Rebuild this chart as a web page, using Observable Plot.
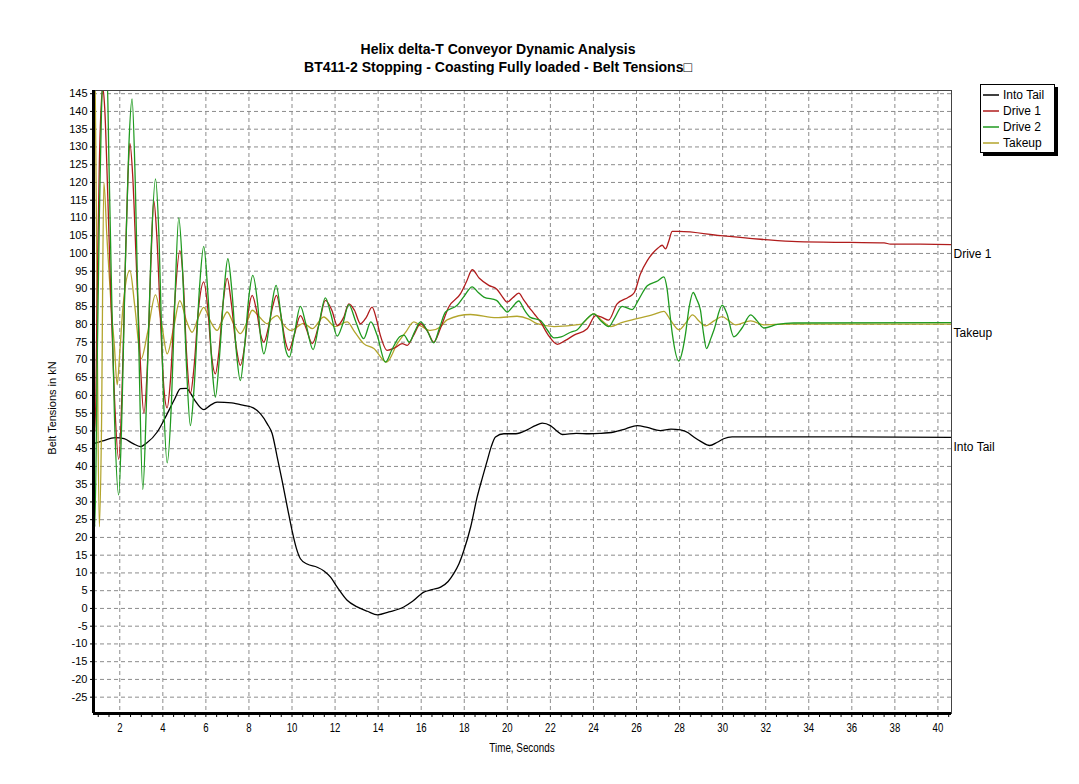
<!DOCTYPE html>
<html><head><meta charset="utf-8">
<script src="https://cdn.jsdelivr.net/npm/d3@7"></script>
<script src="https://cdn.jsdelivr.net/npm/@observablehq/plot@0.6"></script>
<style>
body{margin:0;background:#fff;font-family:"Liberation Sans",Arial,sans-serif;}
#wrap{position:relative;width:1079px;height:784px;overflow:hidden;}
#title{position:absolute;left:0;top:40px;width:996px;text-align:center;font-weight:bold;font-size:14px;line-height:18px;color:#000;}
#chart{position:absolute;left:0;top:80px;}
#legend{position:absolute;left:980px;top:84px;width:73px;height:67px;border:1px solid #000;background:#fff;box-shadow:3px 3px 0 #000;font-size:12px;color:#000;}
#legend .row{height:16px;line-height:16px;display:flex;align-items:center;}
#legend .row:first-child{margin-top:2px;}
#legend svg{margin:0 4px 0 2px;}
#xlabel{position:absolute;left:422px;width:200px;top:740px;text-align:center;font-size:12px;line-height:16px;transform:scaleX(0.82);}
#ylabel{position:absolute;left:52px;top:408px;font-size:11px;white-space:nowrap;transform:translate(-50%,-50%) rotate(-90deg);}
</style>
</head><body>
<div id="wrap">
<div id="title">Helix delta-T Conveyor Dynamic Analysis<br>BT411-2 Stopping - Coasting Fully loaded - Belt Tensions□</div>
<div id="chart"></div>
<div id="legend"></div>
<div id="xlabel">Time, Seconds</div>
<div id="ylabel">Belt Tensions in kN</div>
</div>
<script>
// ---- data ----
const seriesNames = ["Into Tail", "Drive 1", "Drive 2", "Takeup"];
const seriesColors = ["#000000", "#b01c1c", "#1f9a1f", "#b3a52c"];
const xTickLabels = [2,4,6,8,10,12,14,16,18,20,22,24,26,28,30,32,34,36,38,40];
const yTickLabels = [-25,-20,-15,-10,-5,0,5,10,15,20,25,30,35,40,45,50,55,60,65,70,75,80,85,90,95,100,105,110,115,120,125,130,135,140,145];

const intoTailT = [0.78,1.2,1.8,2.2,2.6,2.96,3.25,3.74,4.2,4.55,4.82,5.1,5.3,5.5,5.9,6.2,6.52,7.2,7.76,8.2,8.54,8.85,9.08,9.3,9.54,9.8,10.0,10.2,10.39,10.7,11.17,11.5,11.79,12.1,12.56,13.0,13.5,13.98,14.5,15.19,15.6,16.12,16.5,16.9,17.25,17.51,17.75,17.98,18.3,18.6,18.85,19.07,19.25,19.45,19.84,20.4,20.92,21.3,21.62,22.0,22.3,22.55,23.2,23.8,24.3,24.95,25.5,26.03,26.5,27.1,27.6,28.04,28.4,28.66,29.0,29.4,29.75,30.05,30.44,32,36,40.63];
const intoTailV = [46.4,47.2,48.1,47.8,46.5,45.6,46.6,49.7,54.8,59,61.9,62,60.5,58.5,56,57.2,58.1,57.9,57.2,56.5,54.8,52,49.2,43,36,28,22,17,14,12.5,11.6,10.5,8.8,6,2.3,0.5,-0.8,-1.8,-1,0.4,2,4.6,5.3,6,7.6,9.8,12.5,16.3,23,31.4,37,41.7,45.5,48.3,49.2,49.2,50.3,51.5,52.2,51.5,50,49,49.3,49.2,49.3,49.7,50.6,51.5,51,50.1,50.5,50.3,49.5,48.3,47,45.9,46.8,47.8,48.3,48.3,48.3,48.2];

const drive1T = [0.78,0.85,0.95,1.05,1.15,1.22,1.3,1.45,1.6,1.75,1.95,2.1,2.25,2.38,2.47,2.6,2.75,2.95,3.12,3.28,3.45,3.58,3.72,3.9,4.05,4.2,4.35,4.55,4.79,4.95,5.1,5.28,5.45,5.65,5.9,6.08,6.25,6.44,6.6,6.8,6.99,7.18,7.4,7.6,7.8,7.98,8.15,8.35,8.55,8.69,8.9,9.1,9.28,9.5,9.7,9.85,10.1,10.39,10.65,10.94,11.25,11.55,11.85,12.1,12.4,12.64,12.9,13.18,13.45,13.72,13.9,14.1,14.42,14.8,15.12,15.35,15.65,15.97,16.3,16.58,16.9,17.28,17.82,18.1,18.37,18.7,19.14,19.5,19.75,19.99,20.25,20.53,20.75,21.0,21.25,21.54,21.9,22.32,22.7,23.1,23.71,24.1,24.4,24.7,25.1,25.64,25.9,26.18,26.5,26.73,27.0,27.19,27.35,27.5,27.66,27.97,29.9,31.76,33.46,35.9,37.5,37.8,38.88,40.63];
const drive1V = [62,50,88,125,143,146.5,141,115,85,60,42,60,95,122,131,122,100,70,55,68,98,114.9,105,80,62,56.5,64,86,100.8,92,72,60.5,68,84,92,85,72,66.1,72,86,93,86,74,68.5,74,84,88.2,84,77,75,79,85,88.2,82,75,72.7,77,82.5,79,74.6,80,86.8,84,79.7,82,85.8,84,80.2,82,84.9,82,77,72.7,73.5,74.6,74.1,77,80.2,78,75,79,84.9,88.6,92,95.4,93,91,90,88,86.3,87.5,88.8,87,84.9,83,80.7,77,74.4,75.5,77,78.8,82.5,82,81.2,85.8,87.7,89,94.2,98,99.9,101.5,102.3,101.3,103.5,106.2,106.2,105,104,103.3,103.1,103,102.6,102.6,102.5];

const drive2T = [0.78,0.84,0.95,1.05,1.15,1.25,1.4,1.5,1.6,1.75,1.95,2.1,2.25,2.42,2.57,2.72,2.88,3.07,3.25,3.45,3.66,3.82,4.0,4.2,4.4,4.55,4.74,4.92,5.1,5.28,5.45,5.7,5.9,6.1,6.3,6.44,6.62,6.85,7.02,7.2,7.42,7.6,7.8,8.0,8.18,8.4,8.55,8.69,8.95,9.1,9.26,9.5,9.7,9.88,10.1,10.39,10.65,10.98,11.25,11.55,11.8,12.1,12.35,12.64,12.95,13.33,13.66,13.95,14.34,14.65,15.0,15.2,15.45,15.7,15.97,16.3,16.58,16.85,17.13,17.67,18.0,18.37,18.65,18.91,19.5,19.75,20.0,20.25,20.53,20.8,21.07,21.54,21.85,22.17,22.5,22.94,23.25,23.6,24.02,24.35,24.71,25.0,25.33,25.8,26.1,26.5,27.0,27.27,27.42,27.55,27.66,27.97,28.15,28.28,28.45,28.63,28.8,28.97,29.1,29.25,29.45,29.6,29.98,30.2,30.52,30.9,31.3,31.6,31.92,32.54,33.3,40.63];
const drive2V = [58,23,68,110,140,152,152,125,95,55,32,55,95,130,143.5,120,75,33.5,60,100,121,105,65,41,58,85,110,95,68,51.5,62,90,102,88,67,59.5,70,90,98.5,90,72,64.2,74,88,93.8,86,76,71.7,80,87,91,82,73,70.8,77,85.1,80,72.9,80,87.5,83,76.7,80,85.6,81,76,80.7,77,69.4,73,76.5,77,75,78,80.7,78,74.8,79,83.5,85.4,88,90.6,89,87.7,86.8,85,83.5,85,86.6,84,82,81.1,78.5,76.2,76.5,77.8,78.5,81,83,81,79.4,82,85.1,84.2,87,90.9,92.3,93.4,90,83,77.5,69.7,73,77.5,85,89,87,84,78,73.2,76,78.5,85.4,83,76.5,79,82.7,81,79,80,80.4,80.5];

const takeupT = [0.78,0.86,0.95,1.05,1.15,1.26,1.4,1.6,1.75,1.88,2.0,2.15,2.47,2.7,2.99,3.3,3.66,3.95,4.2,4.5,4.79,5.1,5.36,5.65,5.9,6.2,6.52,6.75,6.99,7.3,7.6,7.9,8.15,8.5,8.85,9.05,9.3,9.6,9.93,10.55,10.94,11.47,12.0,12.56,12.9,13.33,13.8,14.39,14.89,15.3,15.66,16.0,16.43,16.89,17.2,18.29,19.5,20.45,21.0,21.38,22.17,23.4,24.02,24.4,24.8,25.3,25.87,26.8,27.27,27.6,27.97,28.3,28.6,28.9,29.2,29.6,29.98,30.3,30.6,31.3,31.92,33,40.63];
const takeupV = [110,146.5,80,23,50,120,105,85,74,63,72,85,95.2,85,70.3,78,88.3,80,71.7,79,86.7,81,77.8,82,84.8,81,78.3,81,83.5,80,77.4,80.5,84,82,80.2,81.5,82.5,80,78.3,80.3,78.8,82.1,79.4,80.7,78,74.6,73.2,69.4,74.6,78,80.7,79.5,78.3,79.3,81.3,82.8,81.9,82.3,81.5,80.2,79.4,80,83,81,79.4,80.5,81.4,82.8,83.7,81,78.5,80.5,82.7,81,79.6,81,82.2,81,79.9,81,79.9,80.1,80.1];

// ---- build tables ----
const toRows = (T, V) => T.map((t, i) => ({t, v: V[i]}));
const series = [
  toRows(intoTailT, intoTailV),
  toRows(drive1T, drive1V),
  toRows(drive2T, drive2V),
  toRows(takeupT, takeupV)
];
const xDomain = [0.78, 40.63];
const yDomain = [-29.6, 145.9];
const xMinor = d3.range(1, 40.6, 0.5);

const endLabels = [0, 1, 3].map(i => {
  const r = series[i][series[i].length - 1];
  return {t: r.t, v: r.v, name: seriesNames[i]};
});

const drawOrder = [0, 3, 1, 2];

const chart = Plot.plot({
  width: 1079,
  height: 704,
  marginTop: 10,
  marginBottom: 71,
  marginLeft: 93,
  marginRight: 128,
  style: {fontFamily: "'Liberation Sans', Arial, sans-serif", fontSize: "11px", background: "#fff", color: "#000", overflow: "visible"},
  x: {domain: xDomain, ticks: xMinor, tickFormat: d => (xTickLabels.includes(d) ? String(d) : ""), tickSize: 4, tickPadding: 6, label: null},
  y: {domain: yDomain, ticks: yTickLabels, tickFormat: d => String(d), tickSize: 3, tickPadding: 3, label: null},
  marks: [
    Plot.ruleY(yTickLabels, {stroke: "#8c8c8c", strokeWidth: 1, strokeDasharray: "4,3"}),
    Plot.ruleX(xTickLabels, {stroke: "#8c8c8c", strokeWidth: 1, strokeDasharray: "4,3"}),
    ...drawOrder.map(i => Plot.line(series[i], {x: "t", y: "v", stroke: seriesColors[i], strokeWidth: 1.3, curve: "monotone-x", clip: true})),
    Plot.frame({stroke: "#444", strokeWidth: 1}),
    Plot.ruleX([xDomain[0]], {stroke: "#000", strokeWidth: 3}),
    Plot.ruleY([yDomain[0]], {stroke: "#000", strokeWidth: 3}),
    Plot.text(endLabels, {x: "t", y: "v", text: "name", textAnchor: "start", dx: 2, dy: 9.5, fontSize: 12, fill: "#000"})
  ]
});
document.getElementById("chart").appendChild(chart);

// narrow look for x tick labels (condensed horizontally about each label's centre)
const xTexts = [];
chart.querySelectorAll('g[aria-label="x-axis"] text, g[aria-label="x-axis tick label"] text').forEach(t => xTexts.push(t));
xTexts.forEach(t => {
  t.setAttribute("font-size", "12");
  const b = t.getBBox();
  const cx = b.x + b.width / 2;
  const tr = t.getAttribute("transform") || "";
  t.setAttribute("transform", `${tr} translate(${cx},0) scale(0.8,1) translate(${-cx},0)`);
});

// legend
const leg = document.getElementById("legend");
[0, 1, 2, 3].forEach(i => {
  const row = document.createElement("div");
  row.className = "row";
  row.innerHTML = `<svg width="16" height="4"><line x1="0" x2="16" y1="2" y2="2" stroke="${seriesColors[i]}" stroke-width="1.5"/></svg><span>${seriesNames[i]}</span>`;
  leg.appendChild(row);
});
</script>
</body></html>
